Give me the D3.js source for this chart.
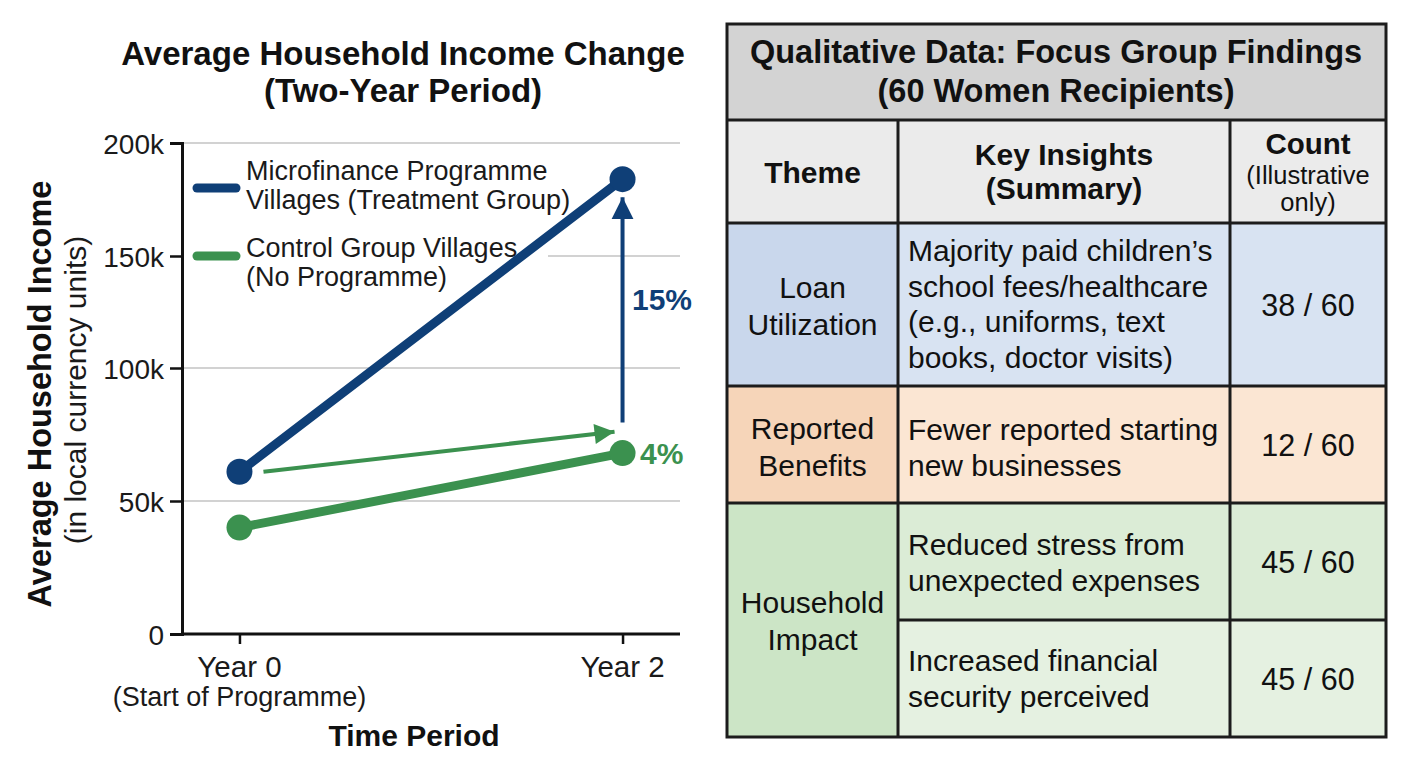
<!DOCTYPE html>
<html><head><meta charset="utf-8">
<script src="https://cdn.jsdelivr.net/npm/d3@7"></script>
<style>
body{margin:0;background:#fff;}
svg{display:block;font-family:"Liberation Sans",Arial,Helvetica,sans-serif;}
</style></head><body>
<svg id="c" width="1408" height="768"></svg>
<script>
// ---------- data ----------
const periods = ["Year 0", "Year 2"];
const periodSub = ["(Start of Programme)", ""];
const treatment = [61000, 184000];
const control = [40000, 68000];
const yTicks = [0, 50000, 100000, 150000, 200000];
const yTickLabels = ["0", "50k", "100k", "150k", "200k"];
const treatmentName = ["Microfinance Programme", "Villages (Treatment Group)"];
const controlName = ["Control Group Villages", "(No Programme)"];
const gainLabels = ["15%", "4%"];
const arrowStartValues = [79500, 61000];   // where the annotation arrows start (data units)

const tableTitle = ["Qualitative Data: Focus Group Findings", "(60 Women Recipients)"];
const headers = [["Theme"], ["Key Insights", "(Summary)"], ["Count"]];
const countNote = ["(Illustrative", "only)"];
const themes = [["Loan", "Utilization"], ["Reported", "Benefits"], ["Household", "Impact"]];
const insights = [
  ["Majority paid children\u2019s", "school fees/healthcare", "(e.g., uniforms, text", "books, doctor visits)"],
  ["Fewer reported starting", "new businesses"],
  ["Reduced stress from", "unexpected expenses"],
  ["Increased financial", "security perceived"]
];
const counts = ["38 / 60", "12 / 60", "45 / 60", "45 / 60"];

// ---------- styles ----------
const BLUE = "#0f3f77", GREEN = "#3b914f", INK = "#111";
const svg = d3.select("#c");
const defs = svg.append("defs");
function marker(id, color, w, h) {
  defs.append("marker").attr("id", id).attr("viewBox", "0 0 10 10")
    .attr("refX", 10).attr("refY", 5).attr("markerWidth", w).attr("markerHeight", h)
    .attr("markerUnits", "userSpaceOnUse").attr("orient", "auto")
    .append("path").attr("d", "M0,0L10,5L0,10Z").attr("fill", color);
}
marker("ab", BLUE, 22, 24);
marker("ag", GREEN, 22, 20);

// ---------- chart ----------
const x = d3.scalePoint().domain(periods).range([182, 680]).padding(0.15);
const y = d3.scaleLinear().domain(yTicks).range([634, 501, 368, 256, 143]);

const g = svg.append("g");
// gridlines
g.selectAll(".grid").data(yTicks.slice(1)).join("line")
  .attr("x1", 182).attr("x2", 680).attr("y1", d => y(d)).attr("y2", d => y(d))
  .attr("stroke", "#d2d2d2").attr("stroke-width", 2);

// legend background
g.append("rect").attr("x", 184).attr("y", 152).attr("width", 364).attr("height", 140).attr("fill", "#fff");

// axes
const yAxis = d3.axisLeft(y).tickValues(yTicks).tickFormat((d, i) => yTickLabels[i]).tickSize(12).tickPadding(6);
const ya = g.append("g").attr("transform", "translate(182,0)").call(yAxis);
ya.select(".domain").attr("stroke", INK).attr("stroke-width", 3);
ya.selectAll(".tick line").attr("stroke", INK).attr("stroke-width", 2.5);
ya.selectAll(".tick text").attr("font-size", 28).attr("fill", "#1a1a1a").attr("font-family", "Liberation Sans, Arial, sans-serif").attr("dy", "0.36em");

const xAxis = d3.axisBottom(x).tickSize(10).tickFormat("");
const xa = g.append("g").attr("transform", "translate(0,634)").call(xAxis);
xa.select(".domain").attr("stroke", INK).attr("stroke-width", 3).attr("d", "M182,0H680");
xa.selectAll(".tick line").attr("stroke", INK).attr("stroke-width", 2.5);
periods.forEach((p, i) => {
  g.append("text").attr("x", x(p)).attr("y", 677).attr("text-anchor", "middle")
    .attr("font-size", 29.5).attr("fill", "#1a1a1a").text(p);
  if (periodSub[i]) g.append("text").attr("x", x(p)).attr("y", 706).attr("text-anchor", "middle")
    .attr("font-size", 27).attr("fill", "#1a1a1a").text(periodSub[i]);
});
g.append("text").attr("x", 414).attr("y", 746).attr("text-anchor", "middle")
  .attr("font-size", 30).attr("font-weight", "bold").attr("fill", INK).text("Time Period");

// y title
g.append("text").attr("transform", "translate(51,394) rotate(-90)").attr("text-anchor", "middle")
  .attr("font-size", 32.5).attr("font-weight", "bold").attr("fill", INK).text("Average Household Income");
g.append("text").attr("transform", "translate(86,390) rotate(-90)").attr("text-anchor", "middle")
  .attr("font-size", 30).attr("fill", "#1a1a1a").text("(in local currency units)");

// chart title
g.append("text").attr("x", 403).attr("y", 65).attr("text-anchor", "middle")
  .attr("font-size", 33).attr("font-weight", "bold").attr("fill", INK).text("Average Household Income Change");
g.append("text").attr("x", 403).attr("y", 102).attr("text-anchor", "middle")
  .attr("font-size", 33).attr("font-weight", "bold").attr("fill", INK).text("(Two-Year Period)");

// legend swatches & text
[[treatmentName, BLUE, 188, 180], [controlName, GREEN, 256, 257]].forEach(([name, col, ly, ty]) => {
  g.append("line").attr("x1", 197).attr("x2", 236).attr("y1", ly).attr("y2", ly)
    .attr("stroke", col).attr("stroke-width", 9).attr("stroke-linecap", "round");
  name.forEach((t, i) => g.append("text").attr("x", 246).attr("y", ty + i * 29)
    .attr("font-size", 27).attr("fill", "#1a1a1a").text(t));
});

// series
const line = d3.line().x((d, i) => x(periods[i])).y(d => y(d));
[[control, GREEN], [treatment, BLUE]].forEach(([vals, col]) => {
  g.append("path").datum(vals).attr("d", line).attr("fill", "none")
    .attr("stroke", col).attr("stroke-width", 9).attr("stroke-linecap", "round");
  g.selectAll(null).data(vals).join("circle")
    .attr("cx", (d, i) => x(periods[i])).attr("cy", d => y(d)).attr("r", 13).attr("fill", col);
});

// annotations
const x0 = x(periods[0]), x2 = x(periods[1]);
g.append("line").attr("x1", x2).attr("x2", x2)
  .attr("y1", y(arrowStartValues[0])).attr("y2", y(treatment[1]) + 18)
  .attr("stroke", BLUE).attr("stroke-width", 4).attr("marker-end", "url(#ab)");
g.append("line").attr("x1", x0 + 24).attr("x2", x2 - 8)
  .attr("y1", y(arrowStartValues[1])).attr("y2", y(arrowStartValues[1]) - 40)
  .attr("stroke", GREEN).attr("stroke-width", 4).attr("marker-end", "url(#ag)");
g.append("text").attr("x", 632).attr("y", 310).attr("font-size", 30).attr("font-weight", "bold")
  .attr("fill", BLUE).text(gainLabels[0]);
g.append("text").attr("x", 640).attr("y", y(control[1]) + 11).attr("font-size", 30).attr("font-weight", "bold")
  .attr("fill", GREEN).text(gainLabels[1]);

// ---------- table ----------
const cols = [727, 898, 1230, 1386];
const rows = [24, 120, 223, 386, 503, 620, 737];
const t = svg.append("g");
const cell = (x0, y0, x1, y1, fill) => t.append("rect").attr("x", x0).attr("y", y0)
  .attr("width", x1 - x0).attr("height", y1 - y0).attr("fill", fill);
cell(cols[0], rows[0], cols[3], rows[1], "#d3d3d3");
cell(cols[0], rows[1], cols[3], rows[2], "#ebebeb");
const themeFill = ["#c9d7ec", "#f6d5b9", "#cce5c6"];
const insightFill = ["#d8e3f2", "#fbe6d3", "#dbecd6", "#e5f1e1"];
const themeRows = [[rows[2], rows[3]], [rows[3], rows[4]], [rows[4], rows[6]]];
themeRows.forEach((r, i) => cell(cols[0], r[0], cols[1], r[1], themeFill[i]));
insights.forEach((lines, i) => {
  cell(cols[1], rows[i + 2], cols[3], rows[i + 3], insightFill[i]);
});

function multi(xp, ys, lines, opts) {
  lines.forEach((l, i) => t.append("text").attr("x", xp).attr("y", ys + i * opts.lh)
    .attr("text-anchor", opts.anchor || "middle").attr("font-size", opts.size)
    .attr("font-weight", opts.bold ? "bold" : "normal").attr("fill", INK).text(l));
}
const cx = i => (cols[i] + cols[i + 1]) / 2;
multi(1056, 63, tableTitle, { size: 32.5, bold: true, lh: 38.5 });
multi(cx(0), 183, headers[0], { size: 30, bold: true, lh: 34 });
multi(cx(1), 165, headers[1], { size: 30, bold: true, lh: 34 });
multi(cx(2), 154, headers[2], { size: 29.5, bold: true, lh: 34 });
multi(cx(2), 184, countNote, { size: 25.5, lh: 27 });

const themeBase = [298, 439, 613];
themes.forEach((th, i) => multi(cx(0), themeBase[i], th, { size: 30, lh: 36.5 }));
const insightBase = [261, 440, 555, 671];
insights.forEach((lines, i) => multi(cols[1] + 10, insightBase[i], lines, { size: 30, lh: 35.5, anchor: "start" }));
counts.forEach((c, i) => multi(cx(2), (rows[i + 2] + rows[i + 3]) / 2 + 11, [c], { size: 30.5, lh: 0 }));

// grid lines of table
const B = "#1c1c1c";
const hl = (x0, x1, yy) => t.append("line").attr("x1", x0).attr("x2", x1).attr("y1", yy).attr("y2", yy).attr("stroke", B).attr("stroke-width", 3);
const vl = (xx, y0, y1) => t.append("line").attr("x1", xx).attr("x2", xx).attr("y1", y0).attr("y2", y1).attr("stroke", B).attr("stroke-width", 3);
hl(cols[0], cols[3], rows[1]);
hl(cols[0], cols[3], rows[2]);
hl(cols[0], cols[3], rows[3]);
hl(cols[0], cols[3], rows[4]);
hl(cols[1], cols[3], rows[5]);
vl(cols[1], rows[1], rows[6]);
vl(cols[2], rows[1], rows[6]);
t.append("rect").attr("x", cols[0]).attr("y", rows[0]).attr("width", cols[3] - cols[0])
  .attr("height", rows[6] - rows[0]).attr("fill", "none").attr("stroke", B).attr("stroke-width", 3);
</script></body></html>
